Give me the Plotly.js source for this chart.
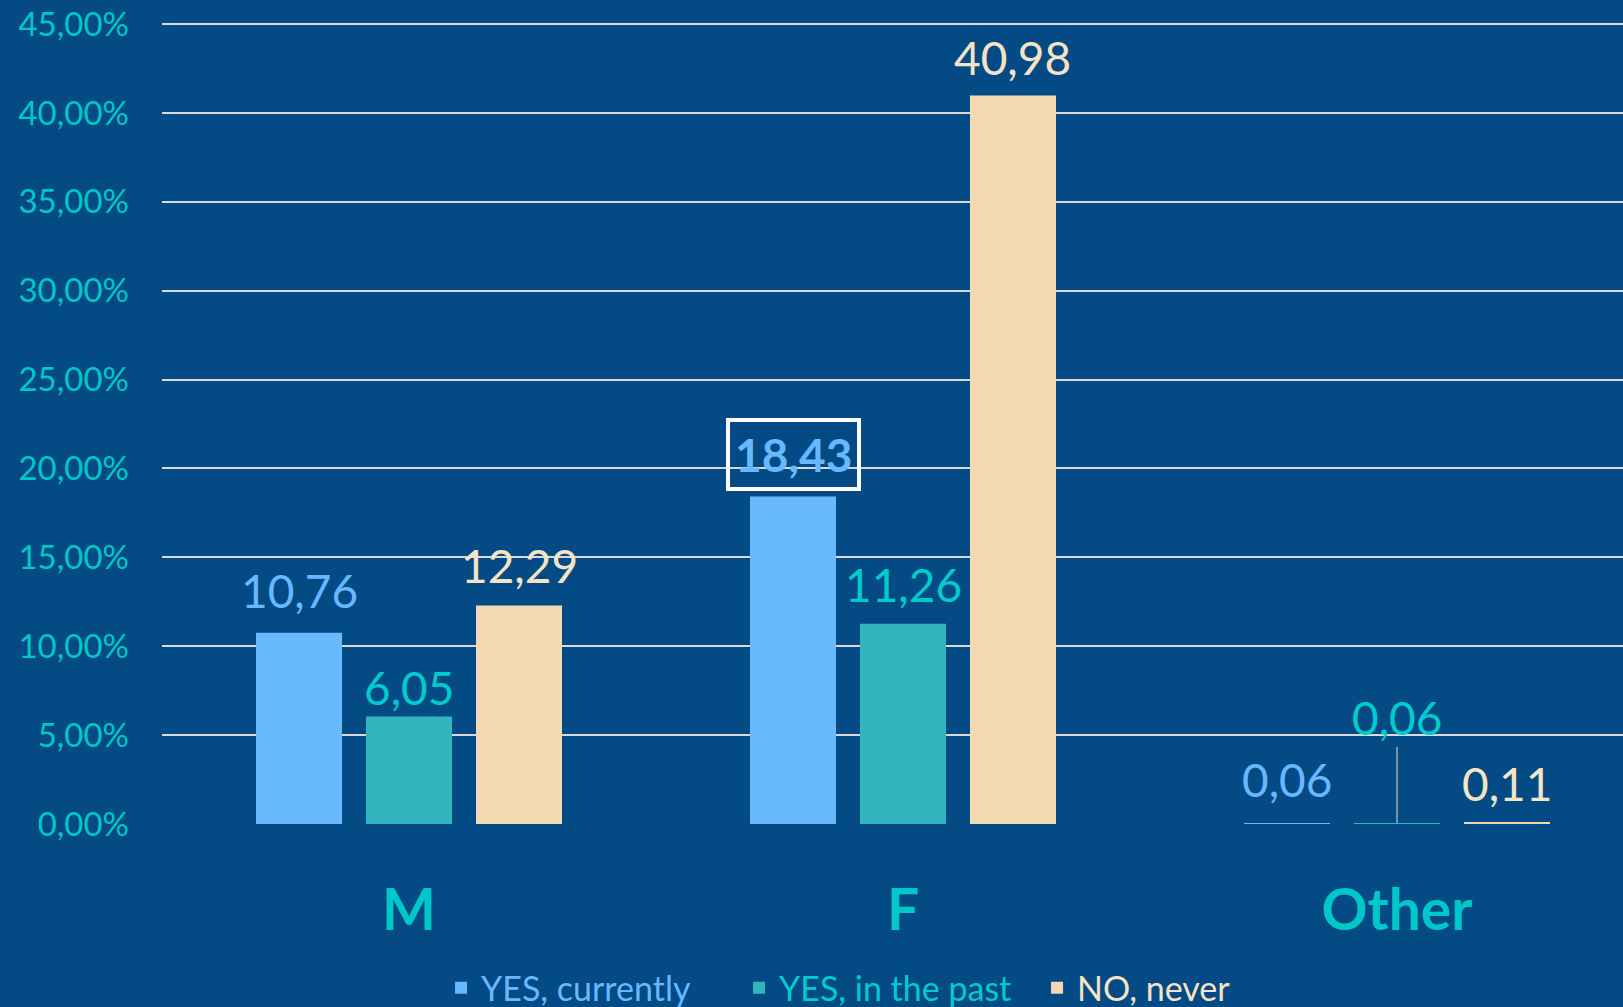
<!DOCTYPE html>
<html><head><meta charset="utf-8">
<script src="https://cdn.plot.ly/plotly-3.0.1.min.js"></script>
<style>html,body{margin:0;padding:0;background:#044a84;overflow:hidden}#chart{width:1623px;height:1007px;}</style>
</head><body><div id="chart"></div>
<script>
// ---- data ----
const categories = ['M', 'F', 'Other'];
const seriesNames = ['YES, currently', 'YES, in the past', 'NO, never'];
const yesCurrently = [10.76, 18.43, 0.06];
const yesPast = [6.05, 11.26, 0.06];
const noNever = [12.29, 40.98, 0.11];
const yTickVals = [0, 5, 10, 15, 20, 25, 30, 35, 40, 45];

// ---- style ----
const bg = '#044a84';
const barColors = ['#69b9ff', '#33b5be', '#f3d9b3'];
const labelColors = ['#66b8ff', '#00cccc', '#f5e3c5'];
const axisColor = '#00c8c8';
const FONT = 'Lato, "Open Sans", sans-serif';
const bargap = 0.332;
const slot = (1 - bargap) / 3;
// vertical lift (px) of each data label above its bar: [category][series]
const labelLift = [[42, 29, 40], [42, 39, 38], [43, 105, 39]];

const seriesValues = [yesCurrently, yesPast, noNever];
const fmt = v => v.toFixed(2).replace('.', ',');

const traces = seriesValues.map((vals, s) => ({
  type: 'bar',
  x: categories,
  y: vals,
  name: '<span style="color:' + labelColors[s] + '">' + seriesNames[s] + '</span>',
  marker: {color: barColors[s], line: {width: 0}},
  hoverinfo: 'skip'
}));

const annotations = [];
seriesValues.forEach((vals, s) => {
  vals.forEach((v, c) => {
    const a = {
      xref: 'x', yref: 'y',
      x: c + (s - 1) * slot, y: v,
      text: fmt(v),
      showarrow: false,
      xanchor: 'center', yanchor: 'middle',
      yshift: labelLift[c][s],
      font: {family: FONT, size: 46, color: labelColors[s]}
    };
    if (c === 1 && s === 0) {
      a.text = '<b>' + fmt(v) + '</b>';
      a.bordercolor = '#ffffff';
      a.borderwidth = 4;
      a.borderpad = 5;
    }
    if (c === 2 && s === 1) {
      a.showarrow = true;
      a.arrowhead = 0;
      a.arrowwidth = 1.5;
      a.arrowcolor = '#a6a6a6';
      a.ax = 0;
      a.ay = -labelLift[c][s];
      a.yshift = 0;
      a.yanchor = 'auto';
    }
    annotations.push(a);
  });
});

const layout = {
  width: 1623, height: 1007,
  paper_bgcolor: bg, plot_bgcolor: bg,
  separators: ',.',
  barmode: 'group',
  bargap: bargap,
  bargroupgap: 0.218,
  margin: {l: 162, r: 0, t: 23, b: 183, autoexpand: false},
  font: {family: FONT},
  showlegend: true,
  legend: {
    orientation: 'h',
    x: 0.191, xanchor: 'left',
    y: -0.205, yanchor: 'middle',
    entrywidth: 253, entrywidthmode: 'pixels',
    font: {family: FONT, size: 34, color: '#66b8ff'},
    bgcolor: 'rgba(0,0,0,0)',
    itemclick: false, itemdoubleclick: false
  },
  xaxis: {
    type: 'category',
    range: [-0.5, 2.4575],
    showgrid: false, zeroline: false, showline: false,
    ticks: '',
    ticklabelstandoff: 48,
    tickfont: {family: FONT, size: 57, color: axisColor, weight: 'bold'},
    fixedrange: true
  },
  yaxis: {
    range: [0, 45.06],
    tickmode: 'array',
    tickvals: yTickVals,
    ticktext: yTickVals.map(v => fmt(v) + '%'),
    showgrid: true, gridcolor: '#d9d9d9', gridwidth: 2,
    zeroline: false, showline: false,
    ticks: '',
    ticklabelstandoff: 32,
    tickfont: {family: FONT, size: 33, color: axisColor},
    fixedrange: true
  },
  annotations: annotations
};

Plotly.newPlot('chart', traces, layout, {displayModeBar: false, staticPlot: true});
</script>
</body></html>
